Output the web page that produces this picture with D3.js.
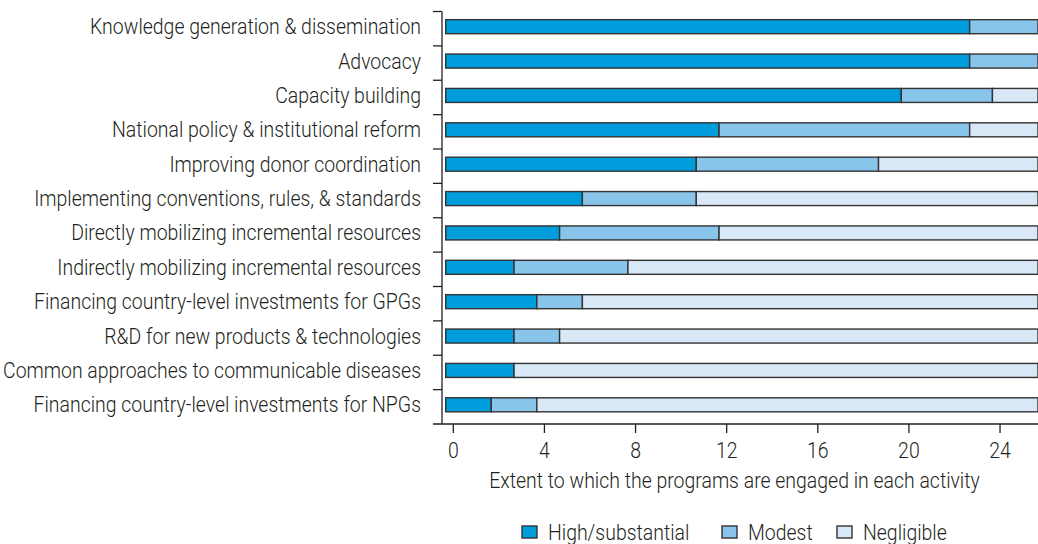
<!DOCTYPE html>
<html>
<head>
<meta charset="utf-8">
<script src="https://cdn.jsdelivr.net/npm/d3@7"></script>
<style>
  body { margin: 0; background: #fff; }
  text { font-family: Roboto, "Liberation Sans", sans-serif; font-weight: 300; fill: #231f20; }
</style>
</head>
<body>
<div id="chart"></div>
<script>
let activities = [
  "Knowledge generation & dissemination",
  "Advocacy",
  "Capacity building",
  "National policy & institutional reform",
  "Improving donor coordination",
  "Implementing conventions, rules, & standards",
  "Directly mobilizing incremental resources",
  "Indirectly mobilizing incremental resources",
  "Financing country-level investments for GPGs",
  "R&D for new products & technologies",
  "Common approaches to communicable diseases",
  "Financing country-level investments for NPGs"
]
let high = [23, 23, 20, 12, 11, 6, 5, 3, 4, 3, 3, 2]
let modest = [3, 3, 4, 11, 8, 5, 7, 5, 2, 2, 0, 2]
let negligible = [0, 0, 2, 3, 7, 15, 14, 18, 20, 21, 23, 22]
let levels = ["High/substantial", "Modest", "Negligible"]
let colors = ["#009ddc", "#89c4ea", "#d9e8f7"]
let xTicks = [0, 4, 8, 12, 16, 20, 24]

let width = 1038, height = 544
let fontSize = 21.5

let svg = d3.select("#chart").append("svg")
    .attr("width", width)
    .attr("height", height)

// the source uses a condensed face; squeeze Roboto to match
function measure(s) {
  let t = svg.append("text").attr("font-size", fontSize).text(s)
  let w = t.node().getComputedTextLength()
  t.remove()
  return w
}
let squeeze = Math.min(
  399 / measure("Implementing conventions, rules, & standards"),
  418 / measure("Common approaches to communicable diseases"))

function label(sel, x, y, anchor) {
  return sel.append("text")
    .attr("transform", `translate(${x},${y}) scale(${squeeze},1)`)
    .attr("dy", "0.35em")
    .attr("text-anchor", anchor)
    .attr("font-size", fontSize)
}

let rows = activities.map((a, i) => ({
  activity: a,
  "High/substantial": high[i],
  "Modest": modest[i],
  "Negligible": negligible[i]
}))

let series = d3.stack().keys(levels)(rows)

let x = d3.scaleLinear()
    .domain([0, 26])
    .range([445.7, 1038])

let y = d3.scaleBand()
    .domain(activities)
    .range([11.5, 424])

let color = d3.scaleOrdinal()
    .domain(levels)
    .range(colors)

let barH = 14

// bars
svg.append("g")
  .selectAll("g")
  .data(series)
  .enter().append("g")
    .attr("fill", d => color(d.key))
  .selectAll("rect")
  .data(d => d.filter(s => s[1] > s[0]))
  .enter().append("rect")
    .attr("x", d => x(d[0]))
    .attr("y", d => y(d.data.activity) + (y.bandwidth() - barH) / 2 - 2)
    .attr("width", d => x(d[1]) - x(d[0]))
    .attr("height", barH)
    .attr("stroke", "#333")
    .attr("stroke-width", 1.4)

// y axis: line, ticks between categories, labels
let yAxis = svg.append("g")
yAxis.append("line")
    .attr("x1", 442).attr("x2", 442)
    .attr("y1", 11.5).attr("y2", 424)
    .attr("stroke", "#231f20").attr("stroke-width", 1.3)
yAxis.selectAll("line.tick")
  .data(activities)
  .enter().append("line")
    .attr("class", "tick")
    .attr("x1", 433).attr("x2", 442)
    .attr("y1", d => y(d)).attr("y2", d => y(d))
    .attr("stroke", "#231f20").attr("stroke-width", 1.3)
activities.forEach(a => {
  label(yAxis, 421, y(a) + y.bandwidth() / 2 - 2, "end").text(a)
})

// x axis
let xAxis = svg.append("g")
xAxis.append("line")
    .attr("x1", 433).attr("x2", 1038)
    .attr("y1", 424).attr("y2", 424)
    .attr("stroke", "#231f20").attr("stroke-width", 1.3)
xTicks.forEach(v => {
  let tx = x(v) + 7.6
  xAxis.append("line")
    .attr("x1", tx).attr("x2", tx)
    .attr("y1", 424).attr("y2", 433)
    .attr("stroke", "#231f20").attr("stroke-width", 1.3)
  label(xAxis, tx, 450, "middle").text(v)
})

label(svg, 734.5, 480, "middle")
    .text("Extent to which the programs are engaged in each activity")

// legend
let legendX = [522, 722, 837]
levels.forEach((lv, i) => {
  let g = svg.append("g")
    .attr("transform", `translate(${legendX[i]},526)`)
  g.append("rect")
    .attr("width", 15).attr("height", 12)
    .attr("fill", color(lv))
    .attr("stroke", "#333").attr("stroke-width", 1.4)
  label(g, 26, 6, "start").text(lv)
})
</script>
</body>
</html>
